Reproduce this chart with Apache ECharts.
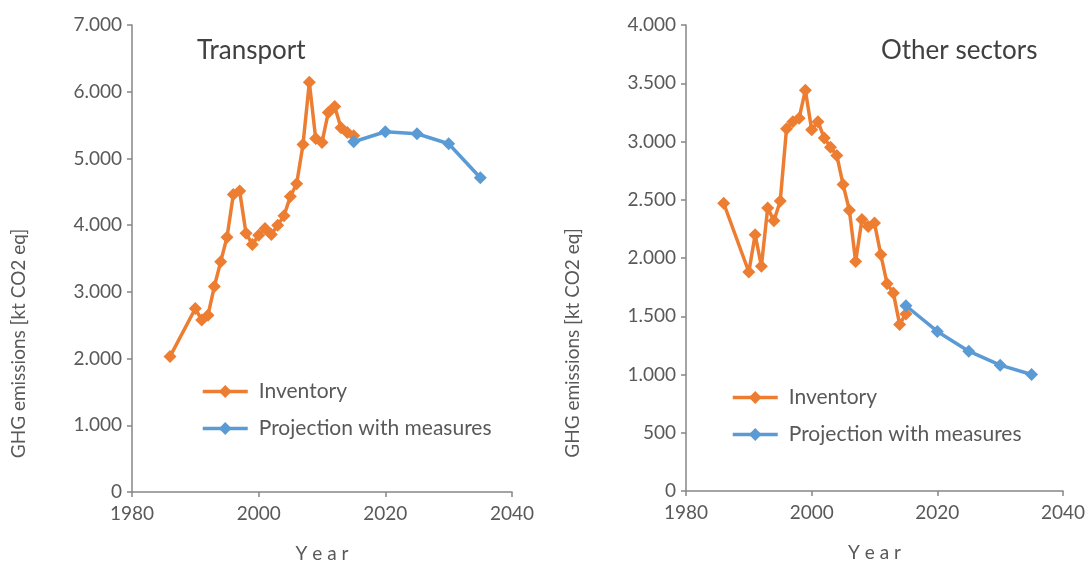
<!DOCTYPE html>
<html>
<head>
<meta charset="utf-8">
<script src="https://cdn.jsdelivr.net/npm/echarts@6/dist/echarts.min.js"></script>
<style>
  html, body { margin: 0; padding: 0; background: #fff; }
  #chart { width: 1091px; height: 563px; }
</style>
</head>
<body>
<div id="chart"></div>
<script>
// Transport
const transportInvYears = [1986, 1990, 1991, 1992, 1993, 1994, 1995, 1996, 1997, 1998, 1999, 2000, 2001, 2002, 2003, 2004, 2005, 2006, 2007, 2008, 2009, 2010, 2011, 2012, 2013, 2014, 2015];
const transportInv = [2030, 2750, 2580, 2650, 3080, 3450, 3820, 4460, 4510, 3880, 3710, 3850, 3950, 3860, 4000, 4140, 4430, 4620, 5210, 6140, 5300, 5240, 5690, 5780, 5460, 5390, 5340];
const transportProjYears = [2015, 2020, 2025, 2030, 2035];
const transportProj = [5250, 5400, 5370, 5220, 4710];

// Other sectors
const otherInvYears = [1986, 1990, 1991, 1992, 1993, 1994, 1995, 1996, 1997, 1998, 1999, 2000, 2001, 2002, 2003, 2004, 2005, 2006, 2007, 2008, 2009, 2010, 2011, 2012, 2013, 2014, 2015];
const otherInv = [2470, 1880, 2200, 1930, 2430, 2320, 2490, 3110, 3170, 3200, 3440, 3100, 3170, 3030, 2950, 2880, 2630, 2410, 1970, 2330, 2270, 2300, 2030, 1780, 1700, 1430, 1520];
const otherProjYears = [2015, 2020, 2025, 2030, 2035];
const otherProj = [1590, 1370, 1200, 1080, 1000];

const seriesNames = ['Inventory', 'Projection with measures'];
const titles = ['Transport', 'Other sectors'];

const ORANGE = '#ED7D31';
const BLUE = '#5B9BD5';
const FONT = 'Lato';
const TXT = '#595959';
const AXIS = '#868686';

const pairs = (xs, ys) => xs.map((x, i) => [x, ys[i]]);
const dotThousands = (v) => String(v).replace(/\B(?=(\d{3})+(?!\d))/g, '.');

const chart = echarts.init(document.getElementById('chart'));

const xAxisBase = (gridIndex) => ({
  gridIndex,
  type: 'value',
  min: 1980,
  max: 2040,
  interval: 20,
  name: 'Y e a r',
  nameLocation: 'middle',
  nameGap: 52,
  nameTextStyle: { fontFamily: FONT, fontSize: 19, color: TXT },
  axisLine: { lineStyle: { color: AXIS, width: 1.5 } },
  axisTick: { length: 5, lineStyle: { color: AXIS, width: 1.5 } },
  axisLabel: { fontFamily: FONT, fontSize: 19, color: TXT, margin: 12, formatter: (v) => String(v) },
  splitLine: { show: false }
});

const yAxisBase = (gridIndex, max, interval) => ({
  gridIndex,
  type: 'value',
  min: 0,
  max,
  interval,
  name: 'GHG emissions [kt CO2 eq]',
  nameLocation: 'middle',
  nameGap: 104,
  nameTextStyle: { fontFamily: FONT, fontSize: 19, color: TXT, padding: [0, 170, 0, 0] },
  axisLine: { show: true, lineStyle: { color: AXIS, width: 1.5 } },
  axisTick: { show: true, length: 5, lineStyle: { color: AXIS, width: 1.5 } },
  axisLabel: { fontFamily: FONT, fontSize: 19, color: TXT, margin: 10, formatter: dotThousands },
  splitLine: { show: false }
});

const lineSeries = (name, color, xi, data) => ({
  name,
  type: 'line',
  xAxisIndex: xi,
  yAxisIndex: xi,
  data,
  symbol: 'diamond',
  symbolSize: 13,
  showSymbol: true,
  lineStyle: { color, width: 3.5 },
  itemStyle: { color },
  animation: false,
  z: name === seriesNames[1] ? 3 : 2
});

const legendBase = (left, top) => ({
  orient: 'vertical',
  left,
  top,
  itemWidth: 45,
  itemHeight: 16,
  itemGap: 16,
  data: seriesNames,
  lineStyle: { width: 3.5 },
  textStyle: { fontFamily: FONT, fontSize: 21, color: TXT, padding: [0, 0, 0, 6] },
  selectedMode: false
});

const gridBase = (left, width, height) => ({
  left, width, top: 25, height,
  outerBoundsMode: 'none',
  containLabel: false
});

chart.setOption({
  backgroundColor: '#fff',
  animation: false,
  title: [
    { text: titles[0], left: 192, top: 33, textStyle: { fontFamily: FONT, fontSize: 26, fontWeight: 'normal', color: '#404040' } },
    { text: titles[1], left: 876, top: 33, textStyle: { fontFamily: FONT, fontSize: 26, fontWeight: 'normal', color: '#404040' } }
  ],
  legend: [legendBase(196, 376), legendBase(726, 382)],
  grid: [gridBase(132, 380, 467), gridBase(686, 377, 466)],
  xAxis: [xAxisBase(0), xAxisBase(1)],
  yAxis: [yAxisBase(0, 7000, 1000), yAxisBase(1, 4000, 500)],
  series: [
    lineSeries(seriesNames[0], ORANGE, 0, pairs(transportInvYears, transportInv)),
    lineSeries(seriesNames[1], BLUE, 0, pairs(transportProjYears, transportProj)),
    lineSeries(seriesNames[0], ORANGE, 1, pairs(otherInvYears, otherInv)),
    lineSeries(seriesNames[1], BLUE, 1, pairs(otherProjYears, otherProj))
  ]
});
</script>
</body>
</html>
